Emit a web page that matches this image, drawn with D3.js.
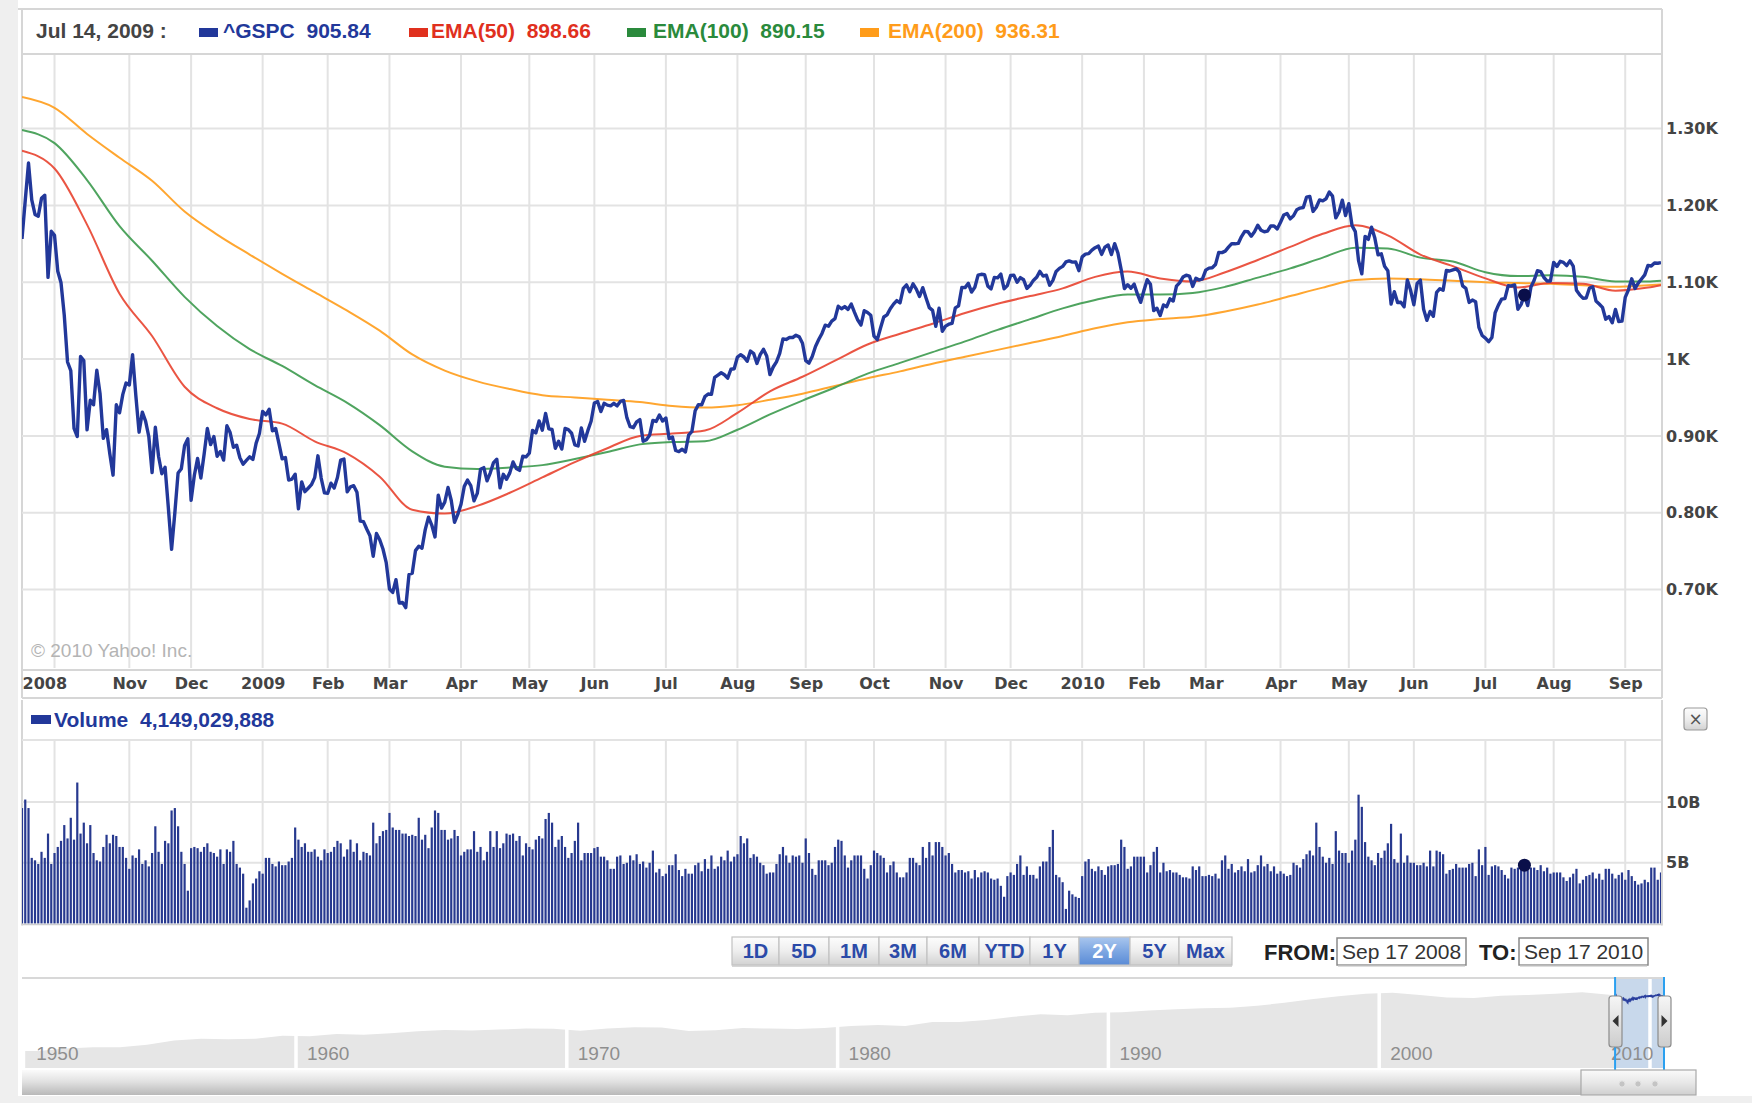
<!DOCTYPE html>
<html>
<head>
<meta charset="utf-8">
<script src="https://cdn.jsdelivr.net/npm/d3@7"></script>
<style>
  body { margin: 0; background: #fff; }
  svg { display: block; }
  text { white-space: pre; }
</style>
</head>
<body>
<svg id="chart" width="1752" height="1103"></svg>
<script>
// ---- data ----
var hoverDate = "Jul 14, 2009";
var seriesNames = ["^GSPC", "EMA(50)", "EMA(100)", "EMA(200)"];
var seriesValues = ["905.84", "898.66", "890.15", "936.31"];
var seriesColors = ["#22389a", "#e0301e", "#2a8a3c", "#ff9c1a"];
var volumeLabel = "Volume";
var volumeValue = "4,149,029,888";

// one label per month, first (Sep 2008, partial) has none
var monthLabels = ["", "2008", "Nov", "Dec", "2009", "Feb", "Mar", "Apr", "May", "Jun", "Jul", "Aug", "Sep",
  "Oct", "Nov", "Dec", "2010", "Feb", "Mar", "Apr", "May", "Jun", "Jul", "Aug", "Sep"];

// daily closes, grouped by month (Sep 17 2008 .. Sep 17 2010)
var closeMonths = [
  [1156.39,1206.51,1255.08,1207.09,1188.22,1185.87,1209.18,1213.27,1106.39,1166.36],
  [1161.06,1114.28,1099.23,1056.89,996.23,984.94,909.92,899.22,1003.35,998.01,907.84,946.43,940.55,985.40,955.05,896.78,908.11,876.77,848.92,940.51,930.09,954.09,968.75],
  [966.30,1005.75,952.77,904.88,930.99,919.21,898.95,852.30,911.29,873.29,850.75,859.12,806.58,752.44,800.03,851.81,857.39,887.68,896.24],
  [816.21,848.81,870.74,845.22,876.07,909.70,888.67,899.24,873.59,879.73,868.57,913.18,904.42,885.28,887.88,871.63,863.16,868.15,872.80,869.42,890.64,903.25],
  [931.80,927.45,934.70,906.65,909.73,890.35,870.26,871.79,842.62,843.74,850.12,805.22,840.24,827.50,831.95,836.57,845.71,874.09,845.14,825.88],
  [825.44,838.51,832.23,845.85,868.60,869.89,827.16,833.74,835.19,826.84,789.17,788.42,778.94,770.05,743.33,773.14,764.90,752.83,735.09],
  [700.82,696.33,712.87,682.55,683.38,676.53,719.60,721.36,750.74,756.55,753.89,778.12,794.35,784.04,768.54,822.92,806.12,813.88,832.86,815.94,787.53,797.87],
  [811.08,834.38,842.50,835.48,815.55,825.16,856.56,858.73,841.50,852.06,865.30,869.60,832.39,850.08,843.55,851.92,866.23,857.51,855.16,873.64,872.81],
  [877.52,907.24,903.80,919.53,907.39,929.23,909.24,908.35,883.92,893.07,882.88,909.71,908.13,903.47,888.33,887.00,910.33,893.06,906.83,919.14],
  [942.87,944.74,931.76,942.46,940.09,939.14,942.43,939.15,944.89,946.21,923.72,911.97,910.71,918.37,921.23,893.04,895.10,900.94,920.26,918.90,927.23,919.32],
  [923.33,896.42,898.72,881.03,879.56,882.68,879.13,901.05,905.84,932.68,940.74,940.38,951.13,954.58,954.07,976.29,979.26,982.18,979.62,975.15,986.75,987.48],
  [1002.63,1005.65,1002.72,997.08,1010.48,1007.10,994.35,1005.81,1012.73,1004.09,979.73,989.67,996.46,1007.37,1026.13,1025.57,1028.00,1028.12,1030.98,1028.93,1020.62],
  [998.04,994.75,1003.24,1016.40,1025.39,1033.37,1044.14,1042.73,1049.34,1052.63,1068.76,1065.49,1068.30,1064.66,1071.66,1060.87,1050.78,1044.38,1062.98,1060.61,1057.08],
  [1029.85,1025.21,1040.46,1054.72,1057.58,1065.48,1071.49,1076.19,1073.19,1092.02,1096.56,1087.68,1097.91,1091.06,1081.40,1092.91,1079.60,1066.95,1063.41,1042.63,1066.11,1036.19],
  [1042.88,1045.41,1046.50,1066.63,1069.30,1093.08,1093.01,1098.51,1087.24,1093.48,1109.30,1110.32,1109.80,1094.90,1091.38,1106.24,1105.65,1110.63,1091.49,1095.63],
  [1108.86,1109.24,1099.92,1105.98,1103.25,1091.94,1095.95,1102.35,1106.41,1114.11,1107.93,1109.18,1096.08,1102.47,1114.05,1118.02,1120.59,1126.48,1127.78,1126.20,1126.42,1115.10],
  [1132.99,1136.52,1137.14,1141.69,1144.98,1146.98,1136.22,1145.68,1148.46,1136.03,1150.23,1138.04,1116.48,1091.76,1096.78,1092.17,1097.50,1084.53,1073.87],
  [1089.19,1103.32,1097.28,1063.11,1066.19,1056.74,1070.52,1068.13,1078.47,1075.51,1094.87,1099.51,1106.75,1109.17,1108.01,1094.60,1105.24,1102.94,1104.49],
  [1115.71,1118.31,1118.79,1122.97,1138.70,1138.50,1140.45,1145.61,1150.24,1149.99,1150.51,1159.46,1166.21,1165.83,1159.90,1165.81,1174.17,1167.72,1165.73,1166.59,1173.22,1173.27,1169.43],
  [1178.10,1187.44,1189.44,1182.45,1186.44,1194.37,1196.48,1197.30,1210.65,1211.67,1192.13,1197.52,1207.17,1205.94,1208.67,1217.28,1212.05,1183.71,1191.36,1206.78,1186.69],
  [1202.26,1173.60,1165.87,1128.15,1110.88,1159.73,1155.79,1171.67,1157.44,1135.68,1136.94,1120.80,1115.05,1071.59,1087.69,1073.65,1074.03,1067.95,1103.06,1089.41],
  [1070.71,1098.38,1102.83,1064.88,1050.47,1062.00,1055.69,1086.84,1091.60,1089.63,1115.23,1114.61,1116.04,1117.51,1113.20,1095.31,1092.04,1073.69,1076.76,1074.57,1041.24,1030.71],
  [1027.37,1022.58,1028.06,1060.27,1070.25,1077.96,1078.75,1095.34,1095.17,1096.48,1064.88,1071.25,1083.48,1069.59,1093.67,1102.66,1115.01,1113.84,1106.13,1101.53,1101.60],
  [1125.86,1120.46,1127.24,1125.81,1121.64,1127.79,1121.06,1089.47,1083.61,1079.25,1079.38,1092.54,1094.16,1075.63,1071.69,1067.36,1051.87,1055.33,1047.22,1064.59,1048.92,1049.33],
  [1080.29,1090.10,1104.51,1091.84,1098.87,1104.18,1109.55,1121.90,1121.10,1125.07,1124.66,1125.59]
];

// daily volume in billions, same grouping
var volumeMonths = [
  [9.5,10.2,9.5,5.4,5.2,4.9,5.9,5.4,7.4,4.9],
  [5.8,6.3,6.8,8.1,7.0,8.7,6.9,11.6,7.4,8.3,6.6,8.1,5.8,5.2,5.1,6.3,7.3,6.6,7.3,7.2,6.3,6.3,5.4],
  [4.5,5.6,5.4,6.1,4.9,5.2,4.7,5.8,8.0,5.9,4.9,6.8,6.6,9.3,9.5,8.0,5.9,4.9,2.7],
  [6.2,6.3,6.2,5.9,6.3,6.6,5.9,5.8,5.5,6.1,4.9,6.1,5.9,6.8,4.9,4.6,4.1,1.3,1.9,3.3,3.7,4.3],
  [4.1,5.4,5.4,4.9,4.7,5.1,4.8,4.8,5.1,5.4,7.9,6.9,6.3,6.6,5.9,5.9,6.1,5.5,5.2,6.1],
  [5.8,5.9,6.3,6.8,6.6,5.5,6.1,6.9,5.9,6.6,5.2,5.9,5.8,5.6,8.3,6.6,7.2,7.6,7.7],
  [9.1,7.9,7.7,7.7,7.4,7.4,7.2,7.3,7.2,8.7,6.9,7.3,6.2,7.9,9.3,9.1,7.7,7.7,6.9,7.0,7.7,7.2],
  [5.6,5.9,6.1,6.1,7.6,5.9,6.3,5.2,5.9,7.6,6.3,7.6,6.2,6.6,7.4,7.3,7.4,6.8,7.2,5.6,6.6],
  [6.3,6.1,6.9,7.2,7.0,8.6,9.1,8.3,6.3,6.9,7.2,6.3,5.4,5.8,6.8,8.3,5.2,5.8,5.8,5.8],
  [6.2,6.3,5.5,5.5,5.2,4.5,4.5,5.5,5.6,4.9,5.0,5.6,5.2,5.7,4.9,5.1,4.6,5.0,6.0,4.2,4.5,3.9],
  [4.1,4.8,4.8,5.7,4.4,3.9,4.5,4.1,4.1,4.8,5.0,4.3,5.3,4.5,5.6,4.5,4.7,5.5,5.2,6.0,5.1,5.5],
  [5.7,7.2,6.6,7.0,5.4,5.7,5.5,5.0,4.8,4.1,4.2,4.2,4.9,5.7,6.3,5.6,5.0,5.6,5.5,5.6,5.0],
  [7.0,5.8,4.5,4.0,5.2,5.2,5.2,4.8,5.0,6.3,6.9,6.8,5.6,4.6,5.2,5.6,5.6,5.6,4.5,3.7,4.8],
  [6.0,5.8,5.6,5.4,4.2,4.8,5.1,4.2,3.8,3.8,4.2,5.4,5.4,5.0,4.8,6.3,5.4,6.7,5.6,6.7,6.7,6.3],
  [5.6,5.8,4.9,4.2,4.4,4.4,4.2,4.3,3.7,4.4,3.8,4.2,4.3,4.2,3.7,3.6,3.7,3.1,2.2,3.9],
  [4.2,4.0,4.9,5.6,4.0,4.7,4.0,4.0,3.7,4.7,5.1,5.1,6.3,7.7,4.0,3.8,3.4,1.2,2.7,2.4,2.2,2.1],
  [3.9,5.1,5.3,4.5,4.3,4.7,4.4,4.0,4.7,4.8,4.8,4.9,6.9,6.3,4.5,4.7,5.5,5.5,5.5],
  [5.5,4.2,4.8,5.9,6.3,4.2,5.0,4.3,4.4,4.2,4.2,4.0,3.8,3.8,3.7,4.7,4.4,4.7,3.9],
  [3.9,4.0,3.9,4.1,3.7,5.2,5.6,4.5,4.9,4.2,4.4,4.7,4.3,5.3,4.2,4.3,4.8,5.6,4.7,4.9,4.3,4.7,4.1],
  [4.3,4.1,3.9,4.0,5.0,4.8,4.6,5.3,5.7,6.0,5.6,8.3,6.3,5.5,5.0,5.4,4.9,7.6,6.0,5.8,5.8],
  [5.0,6.0,6.9,10.6,9.6,6.7,5.5,5.2,4.8,5.8,5.4,6.0,6.6,8.2,5.3,5.0,7.4,5.0,5.6,5.0],
  [5.0,4.8,4.8,5.0,4.7,6.0,4.7,6.0,5.9,5.7,4.1,4.4,4.5,4.9,4.6,4.6,4.6,4.9,5.0,3.9,6.1,4.8],
  [6.3,4.0,4.7,4.8,4.7,4.4,4.0,3.7,4.6,4.5,4.6,4.8,4.8,4.4,4.6,4.6,4.4,4.8,4.3,4.6,4.1],
  [4.2,4.2,4.2,3.8,3.5,3.8,4.1,4.5,3.3,3.6,3.9,4.0,4.2,3.7,4.1,3.6,4.5,4.5,4.1,3.7,4.0,4.2],
  [3.6,4.4,3.9,3.5,3.2,3.3,3.6,3.4,4.6,4.6,3.6,4.2]
];

// moving averages, one reading every emaStep trading days (last one = final day)
var emaStep = 10;
var ema50 = [1271,1248,1175,1085,1030,964,936,922,916,893,877,847,804,799,809,826,846,866,884,900,
  903,907,930,958,977,998,1019,1033,1046,1060,1072,1082,1092,1107,1114,1105,1101,1113,1129,1146,
  1163,1174,1161,1136,1121,1105,1093,1099,1098,1089,1093,1096];
var ema100 = [1298,1281,1233,1173,1128,1081,1043,1013,991,966,943,914,880,860,857,859,862,870,879,889,
  892,893,908,928,946,963,981,995,1009,1023,1038,1052,1066,1077,1084,1084,1086,1094,1106,1118,
  1132,1145,1144,1132,1127,1113,1108,1109,1107,1101,1101,1102];
var ema200 = [1341,1327,1293,1262,1232,1192,1162,1136,1111,1087,1063,1037,1006,985,971,961,953,950,947,944,
  939,937,940,947,955,965,975,984,994,1003,1012,1021,1030,1040,1048,1052,1055,1062,1071,1082,
  1093,1103,1105,1104,1102,1100,1099,1098,1096,1094,1096,1097];

var priceTicks = [700, 800, 900, 1000, 1100, 1200, 1300];
var volumeTicks = [5, 10];
var markerDay = 462; // highlighted day (Jul 20 2010)

// long-range navigator: yearly level of the index, 1950..2010
var navStartYear = 1950;
var navValues = [18.4,22.3,24.5,24.7,29.7,40.5,46.6,44.4,46.2,57.4,55.9,66.3,62.4,69.9,81.4,88.2,85.3,91.9,98.7,97.8,
  83.2,98.3,109.2,107.4,82.9,86.2,102.0,98.2,96.0,103.0,118.8,128.1,119.7,160.4,160.5,186.8,236.3,286.8,265.8,322.8,
  334.6,376.2,415.7,451.4,460.4,541.7,670.5,873.4,1085.5,1327.3,1427.2,1194.2,993.9,965.2,1130.7,1207.2,1310.5,1477.2,1220.0,948.0,1120.0];
var navDecades = [1950, 1960, 1970, 1980, 1990, 2000, 2010];
var selStartYear = 2008.71, selEndYear = 2010.71;

var rangeLabels = ["1D", "5D", "1M", "3M", "6M", "YTD", "1Y", "2Y", "5Y", "Max"];
var activeRange = "2Y";
var fromDate = "Sep 17 2008", toDate = "Sep 17 2010";

// ---- setup ----
var closes = d3.merge(closeMonths);
var volumes = d3.merge(volumeMonths);
var n = closes.length;
var monthStart = [];
var acc = 0;
closeMonths.forEach(function(m) { monthStart.push(acc); acc += m.length; });

var narrow = "'Liberation Sans Narrow','Arial Narrow','Liberation Sans',sans-serif";
var verd = "'DejaVu Sans',Verdana,sans-serif";
var gridColor = "#e3e3e3";
var frameColor = "#d6d6d6";

var left = 22, right = 1661;
var priceTop = 54, priceBottom = 668;
var volTop = 740, volBase = 923.5;

var x = d3.scaleLinear().domain([0, n - 1]).range([left, right]);
var yPrice = d3.scaleLinear().domain([598, 1397]).range([priceBottom, priceTop]);
var yVol = d3.scaleLinear().domain([0, 15.1]).range([volBase, volTop]);

var svg = d3.select("#chart");
var defs = svg.append("defs");

function vGrad(id, stops) {
  var g = defs.append("linearGradient").attr("id", id)
    .attr("x1", 0).attr("y1", 0).attr("x2", 0).attr("y2", 1);
  stops.forEach(function(s) {
    g.append("stop").attr("offset", s[0]).attr("stop-color", s[1]);
  });
}
vGrad("btnGrad", [[0, "#fdfdfd"], [0.5, "#eeeeee"], [1, "#d2d2d2"]]);
vGrad("btnActive", [[0, "#a9c6ee"], [0.5, "#7ea7e2"], [1, "#5a8bd6"]]);
vGrad("trackGrad", [[0, "#fbfbfb"], [0.45, "#e2e2e2"], [1, "#b8b8b8"]]);
vGrad("thumbGrad", [[0, "#fafafa"], [0.5, "#e8e8e8"], [1, "#cfcfcf"]]);
vGrad("handleGrad", [[0, "#f6f6f6"], [1, "#cdcdcd"]]);

defs.append("clipPath").attr("id", "priceClip").append("rect")
  .attr("x", left).attr("y", priceTop).attr("width", right - left).attr("height", priceBottom - priceTop);
defs.append("clipPath").attr("id", "volClip").append("rect")
  .attr("x", left).attr("y", volTop).attr("width", right - left).attr("height", volBase - volTop + 2);
defs.append("clipPath").attr("id", "navClip").append("rect")
  .attr("x", left).attr("y", 979).attr("width", 1664 - left).attr("height", 90);

// ---- page frame ----
svg.append("rect").attr("width", 1752).attr("height", 1103).attr("fill", "#fff");
svg.append("rect").attr("x", 0).attr("y", 0).attr("width", 18).attr("height", 1103).attr("fill", "#efefef");
svg.append("rect").attr("x", 0).attr("y", 1096).attr("width", 1752).attr("height", 7).attr("fill", "#efefef");

function hline(y, x1, x2, c, w) {
  svg.append("line").attr("x1", x1).attr("x2", x2).attr("y1", y).attr("y2", y)
    .attr("stroke", c || frameColor).attr("stroke-width", w || 2);
}
function vline(xp, y1, y2, c, w) {
  svg.append("line").attr("x1", xp).attr("x2", xp).attr("y1", y1).attr("y2", y2)
    .attr("stroke", c || frameColor).attr("stroke-width", w || 2);
}

hline(9, 18, right + 1);
vline(right + 1, 9, 698);
vline(left, 9, 698);
hline(priceBottom + 2, left, right + 1);
hline(698, left, right + 1);
vline(left, 700, volBase + 2);
vline(right + 1, 700, volBase + 2);

// ---- header legend ----
var header = svg.append("g").style("font-family", narrow).style("font-weight", "bold").style("font-size", "21px");
header.append("text").attr("x", 36).attr("y", 38).attr("fill", "#444").text(hoverDate + " :");
var legendX = [199, 409, 627, 860];
var legendTextX = [223, 431, 653, 888];
seriesNames.forEach(function(name, k) {
  header.append("rect").attr("x", legendX[k]).attr("y", 28).attr("width", 19).attr("height", 9)
    .attr("fill", seriesColors[k]);
  header.append("text").attr("x", legendTextX[k]).attr("y", 38)
    .attr("fill", seriesColors[k]).text(name + "  " + seriesValues[k]);
});

// ---- price panel ----
var gGrid = svg.append("g");
gGrid.selectAll(".hg").data(priceTicks).join("line")
  .attr("x1", left).attr("x2", right)
  .attr("y1", function(d) { return yPrice(d); }).attr("y2", function(d) { return yPrice(d); })
  .attr("stroke", gridColor).attr("stroke-width", 2);
gGrid.selectAll(".vg").data(monthStart.slice(1)).join("line")
  .attr("x1", function(d) { return x(d); }).attr("x2", function(d) { return x(d); })
  .attr("y1", priceTop).attr("y2", priceBottom)
  .attr("stroke", gridColor).attr("stroke-width", 2);
hline(priceTop, left, right + 1);

svg.append("text").attr("x", 31).attr("y", 657)
  .style("font-family", narrow).style("font-size", "19px").attr("fill", "#b4b4b4")
  .text("\u00a9 2010 Yahoo! Inc.");

var plot = svg.append("g").attr("clip-path", "url(#priceClip)");
function emaPoints(arr) {
  return arr.map(function(v, k) { return { i: Math.min(k * emaStep, n - 1), v: v }; });
}
var emaLine = d3.line().x(function(d) { return x(d.i); }).y(function(d) { return yPrice(d.v); })
  .curve(d3.curveMonotoneX);
[[ema200, seriesColors[3]], [ema100, "#3c9a4e"], [ema50, "#e8432f"]].forEach(function(s) {
  plot.append("path").datum(emaPoints(s[0])).attr("d", emaLine)
    .attr("fill", "none").attr("stroke", s[1]).attr("stroke-width", 2).attr("stroke-opacity", 0.9);
});
var priceLine = d3.line().x(function(d, i) { return x(i); }).y(function(d) { return yPrice(d); });
plot.append("path").datum(closes).attr("d", priceLine)
  .attr("fill", "none").attr("stroke", "#22389a").attr("stroke-width", 3.4)
  .attr("stroke-linejoin", "round");
plot.append("circle").attr("cx", x(markerDay)).attr("cy", yPrice(closes[markerDay])).attr("r", 6.5)
  .attr("fill", "#0a0f4a");

function fmtK(v) { return v === 1000 ? "1K" : (v / 1000).toFixed(2) + "K"; }
var yAxis = svg.append("g").attr("transform", "translate(" + right + ",0)")
  .call(d3.axisRight(yPrice).tickValues(priceTicks).tickSize(0).tickPadding(5).tickFormat(fmtK));
yAxis.select(".domain").remove();
yAxis.selectAll("text").style("font-family", verd).style("font-weight", "bold").style("font-size", "16px")
  .attr("fill", "#444");

var xAxis = svg.append("g").attr("transform", "translate(0," + (priceBottom + 4) + ")")
  .call(d3.axisBottom(x).tickValues(monthStart.slice(1)).tickSize(0).tickPadding(6)
    .tickFormat(function(d, k) { return monthLabels[k + 1]; }));
xAxis.select(".domain").remove();
xAxis.selectAll("text").style("font-family", verd).style("font-weight", "bold").style("font-size", "16px")
  .attr("fill", "#444");
xAxis.selectAll(".tick").filter(function(d, k) { return k === 0; }).select("text")
  .attr("text-anchor", "start").attr("x", left - x(monthStart[1]));

// ---- volume panel ----
var vh = svg.append("g").style("font-family", narrow).style("font-weight", "bold").style("font-size", "21px");
vh.append("rect").attr("x", 31).attr("y", 715).attr("width", 20).attr("height", 9).attr("fill", "#22389a");
vh.append("text").attr("x", 54).attr("y", 727).attr("fill", "#22389a").text(volumeLabel + "  " + volumeValue);

var cb = svg.append("g");
cb.append("rect").attr("x", 1684).attr("y", 708).attr("width", 23).attr("height", 22).attr("rx", 3)
  .attr("fill", "url(#btnGrad)").attr("stroke", "#9a9a9a").attr("stroke-width", 1.2);
cb.append("text").attr("x", 1695.5).attr("y", 725).attr("text-anchor", "middle")
  .style("font-family", verd).style("font-size", "17px").attr("fill", "#555").text("\u00d7");

var vGridG = svg.append("g");
vGridG.selectAll("line.h").data(volumeTicks.concat([15.1])).join("line")
  .attr("x1", left).attr("x2", right)
  .attr("y1", function(d) { return yVol(d); }).attr("y2", function(d) { return yVol(d); })
  .attr("stroke", gridColor).attr("stroke-width", 2);
vGridG.selectAll("line.v").data(monthStart.slice(1)).join("line")
  .attr("x1", function(d) { return x(d); }).attr("x2", function(d) { return x(d); })
  .attr("y1", volTop).attr("y2", volBase)
  .attr("stroke", gridColor).attr("stroke-width", 2);

var bars = svg.append("g").attr("clip-path", "url(#volClip)");
bars.selectAll("rect").data(volumes).join("rect")
  .attr("x", function(d, i) { return x(i) - 1.1; })
  .attr("width", 2.2)
  .attr("y", function(d) { return yVol(d); })
  .attr("height", function(d) { return volBase - yVol(d); })
  .attr("fill", "#27398f");
svg.append("circle").attr("cx", x(markerDay)).attr("cy", yVol(volumes[markerDay])).attr("r", 6.5)
  .attr("fill", "#0a0f4a");
hline(volBase + 1, left, right + 1, "#cfcfcf", 1.5);

var vAxis = svg.append("g").attr("transform", "translate(" + right + ",0)")
  .call(d3.axisRight(yVol).tickValues(volumeTicks).tickSize(0).tickPadding(5)
    .tickFormat(function(v) { return v + "B"; }));
vAxis.select(".domain").remove();
vAxis.selectAll("text").style("font-family", verd).style("font-weight", "bold").style("font-size", "16px")
  .attr("fill", "#444");

// ---- range buttons and dates ----
var btnEdges = [732, 779, 829, 879, 927, 979, 1030, 1079, 1130, 1179, 1232];
var btnTop = 937, btnH = 28;
var bg = svg.append("g").style("font-family", narrow).style("font-weight", "bold").style("font-size", "20px");
rangeLabels.forEach(function(lab, k) {
  var on = lab === activeRange;
  bg.append("rect").attr("x", btnEdges[k]).attr("y", btnTop)
    .attr("width", btnEdges[k + 1] - btnEdges[k]).attr("height", btnH)
    .attr("fill", on ? "url(#btnActive)" : "url(#btnGrad)")
    .attr("stroke", "#c2c2c2").attr("stroke-width", 1.2);
  bg.append("text").attr("x", (btnEdges[k] + btnEdges[k + 1]) / 2).attr("y", btnTop + 21)
    .attr("text-anchor", "middle").attr("fill", on ? "#fff" : "#2b4aa8").text(lab);
});
hline(btnTop + btnH + 1, btnEdges[0], btnEdges[btnEdges.length - 1], "#c8c8c8", 1.5);

var dg = svg.append("g").style("font-family", narrow);
dg.append("text").attr("x", 1264).attr("y", 960).style("font-weight", "bold").style("font-size", "22px")
  .attr("fill", "#222").text("FROM:");
dg.append("text").attr("x", 1479).attr("y", 960).style("font-weight", "bold").style("font-size", "22px")
  .attr("fill", "#222").text("TO:");
[[1337, fromDate], [1519, toDate]].forEach(function(b) {
  dg.append("rect").attr("x", b[0]).attr("y", 938).attr("width", 129).attr("height", 27)
    .attr("fill", "#fff").attr("stroke", "#8a8a8a").attr("stroke-width", 1.5);
  dg.append("line").attr("x1", b[0] + 1).attr("x2", b[0] + 128).attr("y1", 965.5).attr("y2", 965.5)
    .attr("stroke", "#bbb").attr("stroke-width", 2);
  dg.append("text").attr("x", b[0] + 5).attr("y", 959).style("font-size", "21px")
    .attr("fill", "#333").text(b[1]);
});

// ---- navigator ----
var navX = d3.scaleLinear().domain([1950, 2010]).range([25.2, 1650]);
var navY = d3.scaleLog().domain([20, 1500]).range([1050, 992]);
var navBase = 1068;
hline(978, left, 1664, "#d8d8d8", 2);

var navPts = [[navStartYear, navValues[0]]]
  .concat(navValues.map(function(v, k) { return [navStartYear + k + 0.5, v]; }))
  .concat([[selEndYear, closes[n - 1]]]);
var nav = svg.append("g").attr("clip-path", "url(#navClip)");
nav.append("path").datum(navPts)
  .attr("d", d3.area().x(function(d) { return navX(d[0]); }).y0(navBase).y1(function(d) { return navY(d[1]); }))
  .attr("fill", "#e6e6e6");

var selX0 = navX(selStartYear), selX1 = 1664;
nav.append("rect").attr("x", selX0).attr("y", 979).attr("width", selX1 - selX0).attr("height", navBase - 979)
  .attr("fill", "#c8d8eb");
nav.selectAll("line.dec").data(navDecades.slice(1)).join("line")
  .attr("x1", function(d) { return navX(d); }).attr("x2", function(d) { return navX(d); })
  .attr("y1", 979).attr("y2", navBase).attr("stroke", "#fff").attr("stroke-width", 3.5);
nav.append("path").datum(closes)
  .attr("d", d3.line()
    .x(function(d, i) { return navX(selStartYear + (selEndYear - selStartYear) * i / (n - 1)); })
    .y(function(d) { return navY(d); }))
  .attr("fill", "none").attr("stroke", "#2a3f9e").attr("stroke-width", 1.6);

svg.append("g").selectAll("text").data(navDecades).join("text")
  .attr("x", function(d) { return Math.min(navX(d) + 11, 1611); })
  .attr("y", 1060)
  .style("font-family", narrow).style("font-size", "19px").attr("fill", "#8e8e8e")
  .text(function(d) { return d; });

[selX0, selX1].forEach(function(px) { vline(px, 977, 1070, "#2aa0f0", 2); });
// handles: left one points left, right one points right
[[1609, -1], [1658, 1]].forEach(function(h) {
  svg.append("rect").attr("x", h[0]).attr("y", 996).attr("width", 13).attr("height", 51).attr("rx", 3)
    .attr("fill", "url(#handleGrad)").attr("stroke", "#8c8c8c").attr("stroke-width", 1.2);
  var cx = h[0] + 6.5, cy = 1021;
  svg.append("path").attr("d", "M" + (cx + 3 * h[1]) + "," + cy + "L" + (cx - 3 * h[1]) + "," + (cy - 6) +
    "L" + (cx - 3 * h[1]) + "," + (cy + 6) + "Z").attr("fill", "#333");
});

// ---- scrollbar ----
svg.append("rect").attr("x", left).attr("y", 1070).attr("width", 1696 - left).attr("height", 25)
  .attr("fill", "url(#trackGrad)");
svg.append("rect").attr("x", 1581).attr("y", 1070).attr("width", 115).attr("height", 25)
  .attr("fill", "url(#thumbGrad)").attr("stroke", "#a8a8a8").attr("stroke-width", 1.2);
[1622, 1638, 1655].forEach(function(px) {
  svg.append("circle").attr("cx", px).attr("cy", 1084).attr("r", 3.2).attr("fill", "#c4c4c4")
    .attr("stroke", "#e8e8e8").attr("stroke-width", 1);
});
</script>
</body>
</html>
